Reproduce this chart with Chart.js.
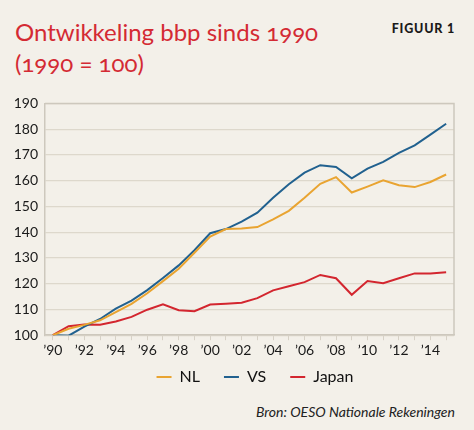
<!DOCTYPE html>
<html>
<head>
<meta charset="utf-8">
<script src="https://cdn.jsdelivr.net/npm/chart.js@4.4.1/dist/chart.umd.min.js"></script>
<style>
  html, body { margin:0; padding:0; width:474px; height:430px; background:#f3f0e9; overflow:hidden; }
  #title { position:absolute; left:15px; top:16px; color:#d42a33; font-family:Lato, "Open Sans", sans-serif; font-size:24px; line-height:31px; font-variant-numeric: oldstyle-nums; }
  #fig { position:absolute; right:19px; top:21px; font-family:Lato, sans-serif; font-weight:900; font-size:12.5px; letter-spacing:0.8px; color:#1a1a1a; }
  #src { position:absolute; right:19px; top:403px; font-family:Lato, sans-serif; font-style:italic; font-size:14px; color:#222; }
  #wrap { position:absolute; left:0; top:88px; width:474px; height:323px; }
</style>
</head>
<body>
<div id="title">Ontwikkeling bbp sinds 1990<br>(1990 = 100)</div>
<div id="fig">FIGUUR 1</div>
<div id="src">Bron: OESO Nationale Rekeningen</div>
<div id="wrap"><canvas id="c"></canvas></div>
<script>
const years = [1990,1991,1992,1993,1994,1995,1996,1997,1998,1999,2000,2001,2002,2003,2004,2005,2006,2007,2008,2009,2010,2011,2012,2013,2014,2015];
const nl    = [100,102.5,104,105.8,109,112.2,116.3,121,125.8,132,138.3,141.2,141.4,142,145,148.3,153.4,158.8,161.4,155.4,157.7,160.1,158.2,157.5,159.5,162.4];
const vs    = [100,99.8,103.3,106.3,110.3,113.4,117.5,122.2,127.1,133,139.6,141.2,144.1,147.6,153.4,158.6,163.1,166,165.3,160.9,164.7,167.3,170.8,173.7,177.9,182.1];
const japan = [100,103.5,104.2,104.1,105.3,107.1,109.9,112,109.7,109.3,111.9,112.2,112.6,114.4,117.4,119,120.6,123.4,122.1,115.7,121,120.2,122.1,124,124,124.4];
const yTicks = [100,110,120,130,140,150,160,170,180,190];
const seriesNames = ['NL','VS','Japan'];
const colors = ['#e9a431','#21618f','#d3262f'];

const labels = years.map(y => '\u2019' + String(y).slice(2));

new Chart(document.getElementById('c'), {
  type: 'line',
  data: {
    labels: labels,
    datasets: [nl, vs, japan].map((d, i) => ({
      label: seriesNames[i],
      data: d,
      borderColor: colors[i],
      backgroundColor: colors[i],
      borderWidth: 2,
      pointRadius: 0,
      tension: 0
    }))
  },
  options: {
    responsive: true,
    maintainAspectRatio: false,
    animation: false,
    layout: { padding: { left: 0, right: 20, top: 1, bottom: 0 } },
    plugins: {
      legend: {
        position: 'bottom',
        labels: {
          usePointStyle: true,
          pointStyle: 'line',
          pointStyleWidth: 15,
          boxHeight: 14,
          color: '#111',
          padding: 24,
          font: { family: 'Lato, sans-serif', size: 16 }
        }
      },
      tooltip: { enabled: false }
    },
    scales: {
      x: {
        offset: true,
        border: { color: '#cdc8bd', width: 1.5 },
        grid: { display: true, drawOnChartArea: false, drawTicks: true, tickLength: 5, color: '#d6d1c6' },
        ticks: {
          autoSkip: false, maxRotation: 0, color: '#1a1a1a', padding: 2,
          font: { family: 'Lato, sans-serif', size: 14 },
          callback: function(v, i) { return (years[i] % 2 === 0) ? labels[i] : ''; }
        }
      },
      y: {
        min: 100, max: 190,
        afterFit: function(s) { s.width = 45; },
        afterBuildTicks: function(s) { s.ticks = yTicks.map(v => ({ value: v })); },
        border: { color: '#cdc8bd', width: 1.5 },
        grid: { color: '#ddd8cc', lineWidth: 1.2, drawTicks: false },
        ticks: { color: '#1a1a1a', padding: 7, font: { family: 'Lato, sans-serif', size: 14 } }
      }
    }
  },
  plugins: [{
    id: 'box',
    afterLayout(chart) {
      const lg = chart.legend;
      if (lg) { lg.top -= 16; lg.bottom -= 16; lg.left += 28; lg.right += 28; }
    },
    afterDraw(chart) {
      const a = chart.chartArea, ctx = chart.ctx;
      ctx.save();
      ctx.strokeStyle = '#cdc8bd';
      ctx.lineWidth = 1.5;
      ctx.beginPath();
      ctx.moveTo(a.left, a.top); ctx.lineTo(a.right, a.top); ctx.lineTo(a.right, a.bottom);
      ctx.stroke();
      ctx.restore();
    }
  }]
});
</script>
</body>
</html>
